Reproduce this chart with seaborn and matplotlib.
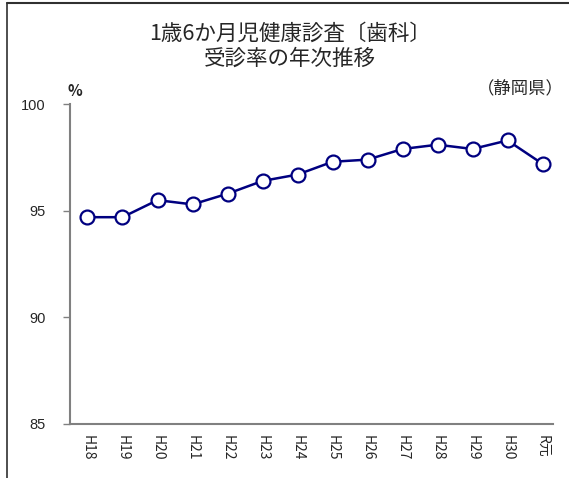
import matplotlib
matplotlib.use("Agg")
import matplotlib.pyplot as plt
from matplotlib.lines import Line2D
import pandas as pd
import seaborn as sns

# Data
years = ['H18', 'H19', 'H20', 'H21', 'H22', 'H23', 'H24',
         'H25', 'H26', 'H27', 'H28', 'H29', 'H30', 'R元']
rate = [94.7, 94.7, 95.5, 95.3, 95.8, 96.4, 96.7,
        97.3, 97.4, 97.9, 98.1, 97.9, 98.3, 97.2]
y_ticks = [85, 90, 95, 100]

df = pd.DataFrame({'pos': range(len(years)), 'year': years, 'rate': rate})

sns.set_style('white')
plt.rcParams['font.family'] = ['Liberation Sans', 'Noto Sans CJK JP', 'DejaVu Sans']

fig = plt.figure(figsize=(5.69, 4.78), dpi=100)
ax = fig.add_axes([0.123, 0.113, 0.849, 0.669])

sns.lineplot(data=df, x='pos', y='rate', ax=ax, color='#000080', linewidth=1.8,
             marker='o', markersize=10, markerfacecolor='white',
             markeredgecolor='#000080', markeredgewidth=1.6)

ax.set_xlim(-0.5, 13.3)
ax.set_ylim(85, 100)
ax.set_yticks(y_ticks)
ax.set_yticklabels([str(v) for v in y_ticks], fontsize=10.5)
ax.set_xticks(df['pos'])
ax.set_xticklabels(years, rotation=-90, fontsize=10,
                   family=['Noto Sans CJK JP', 'DejaVu Sans'])
ax.set_xticks([i + 0.5 for i in range(len(years) - 1)], minor=True)
ax.tick_params(axis='x', which='major', length=0, pad=8)
ax.tick_params(axis='x', which='minor', direction='in', length=4,
               color='#808080', width=1)
ax.tick_params(axis='y', direction='out', length=5, color='#808080',
               width=1, pad=12.5, left=True)
ax.set_xlabel('')
ax.set_ylabel('')

for side in ['top', 'right']:
    ax.spines[side].set_visible(False)
for side in ['left', 'bottom']:
    ax.spines[side].set_color('#808080')
    ax.spines[side].set_linewidth(1.5)

jp = ['Noto Sans CJK JP', 'DejaVu Sans']
fig.text(0.51, 0.930, '1歳6か月児健康診査〔歯科〕', ha='center', va='center',
         fontsize=15.5, family=jp)
fig.text(0.51, 0.878, '受診率の年次推移', ha='center', va='center',
         fontsize=15.5, family=jp)
fig.text(0.132, 0.810, '%', ha='center', va='center', fontsize=11,
         fontweight='bold', family=jp)
fig.text(0.99, 0.815, '（静岡県）', ha='right', va='center', fontsize=12.5, family=jp)

# frame pieces of the original sheet
fig.add_artist(Line2D([0.012, 1.0], [0.993, 0.993], color='#303030',
                      linewidth=1.5, transform=fig.transFigure))
fig.add_artist(Line2D([0.012, 0.012], [0.0, 0.993], color='#303030',
                      linewidth=1.2, transform=fig.transFigure))

fig.savefig('out.png', dpi=100)
